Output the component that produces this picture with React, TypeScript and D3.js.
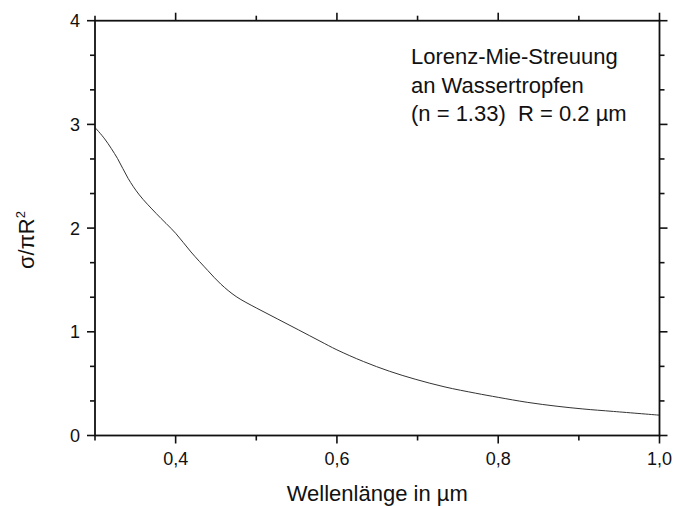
import React from "react";
import * as d3 from "d3";

const wavelength = [0.30, 0.312, 0.328, 0.341, 0.355, 0.376, 0.40, 0.419, 0.44, 0.456, 0.475, 0.50, 0.526, 0.552, 0.579, 0.60, 0.633, 0.665, 0.697, 0.734, 0.772, 0.80, 0.836, 0.873, 0.905, 0.943, 1.0];
const sigma = [2.97, 2.86, 2.67, 2.48, 2.32, 2.14, 1.95, 1.77, 1.59, 1.46, 1.34, 1.23, 1.125, 1.02, 0.91, 0.826, 0.713, 0.62, 0.543, 0.468, 0.408, 0.368, 0.32, 0.282, 0.256, 0.232, 0.196];

const xMajor = [0.4, 0.6, 0.8, 1.0];
const xMinor = [0.3, 0.5, 0.7, 0.9];
const xLabels = ["0,4", "0,6", "0,8", "1,0"];
const yMajor = [0, 1, 2, 3, 4];
const yLabels = ["0", "1", "2", "3", "4"];
const yMinorSteps = [1 / 3, 2 / 3];

const annotation = ["Lorenz-Mie-Streuung", "an Wassertropfen", "(n = 1.33)  R = 0.2 \u00b5m"];
const xTitle = "Wellenl\u00e4nge in \u00b5m";
const yTitle = "\u03c3/\u03c0R";

const W = 678, H = 506;
const left = 95, right = 659.5, top = 20.7, bottom = 435.5;
const FONT = "'Liberation Sans', Arial, sans-serif";

export default function App() {
  const x = d3.scaleLinear().domain([0.3, 1.0]).range([left, right]);
  const y = d3.scaleLinear().domain([0, 4]).range([bottom, top]);
  const pts = wavelength.map((w, i) => [w, sigma[i]] as [number, number]);
  const line = d3.line<[number, number]>().x(d => x(d[0])).y(d => y(d[1])).curve(d3.curveCatmullRom.alpha(0.5));
  const yMinor: number[] = [];
  for (let k = 0; k < 4; k++) yMinorSteps.forEach(s => yMinor.push(k + s));
  const major = 8, minor = 5;
  return (
    <svg width={W} height={H} style={{ position: "absolute", left: 0, top: 0, background: "#fff" }} fontFamily={FONT}>
      <rect x={0} y={0} width={W} height={H} fill="#fff" />
      <path d={line(pts) || ""} fill="none" stroke="#333" strokeWidth={1} />
      <rect x={left} y={top} width={right - left} height={bottom - top} fill="none" stroke="#111" strokeWidth={1.8} />
      {xMajor.map((v, i) => (
        <g key={"xM" + i}>
          <line x1={x(v)} x2={x(v)} y1={bottom} y2={bottom + major} stroke="#111" strokeWidth={1.6} />
          <line x1={x(v)} x2={x(v)} y1={top} y2={top - major} stroke="#111" strokeWidth={1.6} />
          <text x={x(v)} y={465} textAnchor="middle" fontSize={18} fill="#111">{xLabels[i]}</text>
        </g>
      ))}
      {xMinor.map((v, i) => (
        <g key={"xm" + i}>
          <line x1={x(v)} x2={x(v)} y1={bottom} y2={bottom + minor} stroke="#111" strokeWidth={1.6} />
          <line x1={x(v)} x2={x(v)} y1={top} y2={top - minor} stroke="#111" strokeWidth={1.6} />
        </g>
      ))}
      {yMajor.map((v, i) => (
        <g key={"yM" + i}>
          <line x1={left} x2={left - major} y1={y(v)} y2={y(v)} stroke="#111" strokeWidth={1.6} />
          <line x1={right} x2={right + major} y1={y(v)} y2={y(v)} stroke="#111" strokeWidth={1.6} />
          <text x={80} y={y(v) + 6.5} textAnchor="end" fontSize={18} fill="#111">{yLabels[i]}</text>
        </g>
      ))}
      {yMinor.map((v, i) => (
        <g key={"ym" + i}>
          <line x1={left} x2={left - minor} y1={y(v)} y2={y(v)} stroke="#111" strokeWidth={1.6} />
          <line x1={right} x2={right + minor} y1={y(v)} y2={y(v)} stroke="#111" strokeWidth={1.6} />
        </g>
      ))}
      {annotation.map((t, i) => (
        <text key={"a" + i} x={411} y={64 + i * 28.5} fontSize={22} fill="#111" style={{ whiteSpace: "pre" }}>{t}</text>
      ))}
      <text x={(left + right) / 2} y={501} textAnchor="middle" fontSize={22} fill="#111">{xTitle}</text>
      <text transform={`translate(34,240) rotate(-90)`} textAnchor="middle" fontSize={22} fill="#111">
        {yTitle}<tspan dy={-9} fontSize={13}>2</tspan>
      </text>
    </svg>
  );
}
